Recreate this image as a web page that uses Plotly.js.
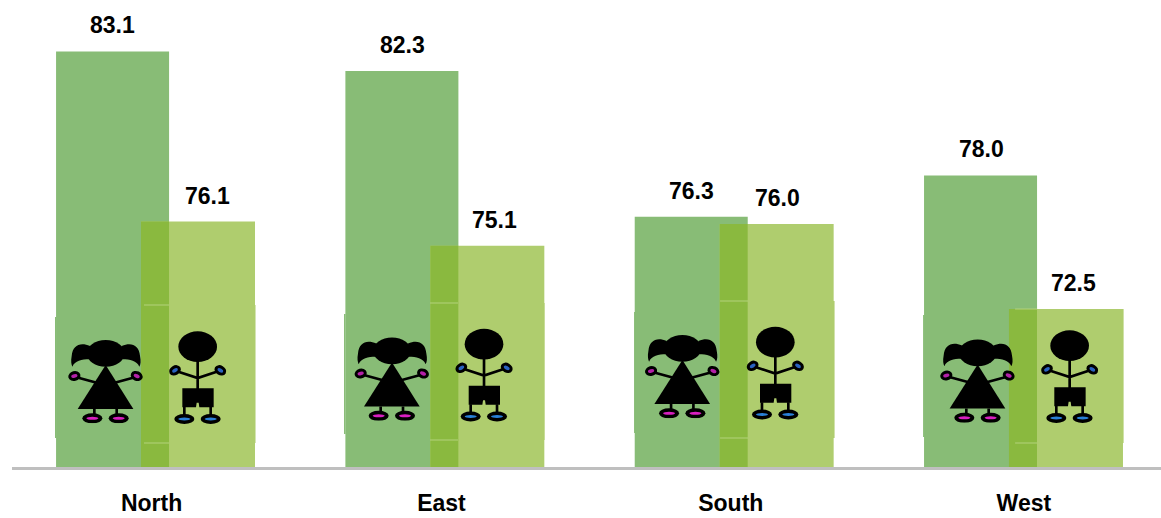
<!DOCTYPE html>
<html>
<head>
<meta charset="utf-8">
<script src="https://cdn.plot.ly/plotly-3.0.1.min.js"></script>
<style>html,body{margin:0;padding:0;background:#fff}#chart{width:1161px;height:518px}</style>
</head>
<body>
<div id="chart"></div>
<script>
var categories = ["North", "East", "South", "West"];
var femaleValues = [83.1, 82.3, 76.3, 78.0];
var maleValues = [76.1, 75.1, 76.0, 72.5];
var groupIndex = [0, 1, 2, 3];

// layout constants (pixels / axis fractions), not data
var femaleLabelOffset = [-0.147, -0.145, -0.145, -0.145];
var maleLabelOffset = [0.180, 0.173, 0.152, 0.176];
var tickPositions = [-0.012, -0.010, -0.010, 0.003];
var girlOffset = [-0.3053, -0.3157, -0.312, -0.2915];
var boyOffset = [0.0403, 0.030, 0.0368, 0.0541];
var girlDy = [0, -2.5, -5, -0.5];
var boyDy = [0, -2.5, -4.5, -1];
var girlPatch = [[55, 317, 438], [344, 314, 434], [634, 312, 433], [923, 315, 437]];
var boyPatch = [[144, 169, 255, 305, 443], [430, 458, 544, 303, 440], [720, 748, 834, 301, 438], [1015, 1037, 1123, 309, 443]];

var FONT = '"Liberation Sans", Arial, sans-serif';
var pxX = 289.3, pxY = 24.3, x0 = -0.4943, leftPx = 12, basePx = 467;
function X(p) { return x0 + (p - leftPx) / pxX; }
function Y(p) { return 66 + (basePx - p) / pxY; }

function girlSvg() {
  return '<svg xmlns="http://www.w3.org/2000/svg" viewBox="80 140 230 260" width="460" height="520">' +
    '<path d="M150 168 C120 156 98 166 95 198 C92 213 94 224 97 230 C105 212 125 208 148 208 Z" fill="#000"/>' +
    '<path d="M245 168 C275 156 297 166 300 198 C303 213 302 224 298 230 C290 212 270 208 247 208 Z" fill="#000"/>' +
    '<ellipse cx="197" cy="190" rx="57" ry="40" fill="#000"/>' +
    '<path d="M197 225 L280 357 L113 357 Z" fill="#000"/>' +
    '<path d="M115 263 L170 278 M279 263 L224 278 M163 357 L163 380 M230 357 L230 380" stroke="#000" stroke-width="8" fill="none"/>' +
    '<ellipse cx="103" cy="258" rx="14" ry="10" transform="rotate(-15 103 258)" fill="#b320a8" stroke="#000" stroke-width="9"/>' +
    '<ellipse cx="290" cy="258" rx="14" ry="10" transform="rotate(25 290 258)" fill="#b320a8" stroke="#000" stroke-width="9"/>' +
    '<ellipse cx="157" cy="385" rx="30" ry="15" fill="#000"/><ellipse cx="157" cy="385" rx="18" ry="4.5" fill="#d81fc0"/>' +
    '<ellipse cx="236" cy="385" rx="30" ry="15" fill="#000"/><ellipse cx="236" cy="385" rx="18" ry="4.5" fill="#d81fc0"/>' +
    '</svg>';
}
function boySvg() {
  return '<svg xmlns="http://www.w3.org/2000/svg" viewBox="380 120 190 290" width="380" height="580">' +
    '<ellipse cx="473" cy="170" rx="58" ry="46" fill="#000"/>' +
    '<path d="M473 205 L473 300 M415 245 L473 264 L530 245 M433 350 L433 382 M512 350 L512 382" stroke="#000" stroke-width="8" fill="none"/>' +
    '<path d="M427 295 L521 295 L521 352 L478 352 L476 338 L470 338 L468 352 L427 352 Z" fill="#000"/>' +
    '<ellipse cx="405" cy="241" rx="14" ry="10" transform="rotate(-30 405 241)" fill="#2a62c0" stroke="#000" stroke-width="9"/>' +
    '<ellipse cx="541" cy="241" rx="14" ry="10" transform="rotate(30 541 241)" fill="#2a62c0" stroke="#000" stroke-width="9"/>' +
    '<ellipse cx="433" cy="387" rx="30" ry="15" fill="#000"/><ellipse cx="433" cy="387" rx="18" ry="4.5" fill="#2a80d8"/>' +
    '<ellipse cx="512" cy="387" rx="30" ry="15" fill="#000"/><ellipse cx="512" cy="387" rx="18" ry="4.5" fill="#2a80d8"/>' +
    '</svg>';
}
function uri(s) { return 'data:image/svg+xml;charset=utf-8,' + encodeURIComponent(s); }

var images = [];
groupIndex.forEach(function (g, i) {
  images.push({source: uri(girlSvg()), xref: 'x', yref: 'y', xanchor: 'left', yanchor: 'top',
    x: g + girlOffset[i], y: Y(336.67 + girlDy[i]), sizex: (230 / 3) / pxX, sizey: (260 / 3) / pxY,
    sizing: 'stretch', layer: 'above'});
  images.push({source: uri(boySvg()), xref: 'x', yref: 'y', xanchor: 'left', yanchor: 'top',
    x: g + boyOffset[i], y: Y(330 + boyDy[i]), sizex: (190 / 3) / pxX, sizey: (290 / 3) / pxY,
    sizing: 'stretch', layer: 'above'});
});

var shapes = [];
function rect(xa, xb, ya, yb, c) {
  shapes.push({type: 'rect', xref: 'x', yref: 'y', x0: X(xa), x1: X(xb), y0: Y(ya), y1: Y(yb),
    fillcolor: c, line: {width: 0}, layer: 'above'});
}
function seg(xa, ya, xb, yb) {
  shapes.push({type: 'line', xref: 'x', yref: 'y', x0: X(xa), x1: X(xb), y0: Y(ya), y1: Y(yb),
    line: {color: '#b3d27c', width: 1}, layer: 'above'});
}
girlPatch.forEach(function (p) { rect(p[0], p[0] + 1.5, p[1], p[2], '#88bc76'); });
boyPatch.forEach(function (p) {
  rect(p[2] - 1.5, p[2] + 0.5, p[3], p[4], '#afcd6e');
  seg(p[0], p[3], p[1], p[3]);
  seg(p[0], p[4], p[1], p[4]);
});

function barTrace(name, values, color, offset, width) {
  return {type: 'bar', name: name, x: groupIndex, y: values, offset: offset, width: width,
    marker: {color: color, line: {width: 0}}, hoverinfo: 'x+y'};
}
var data = [
  barTrace('Female', femaleValues, '#88bc76', -0.342, 0.3906),
  barTrace('Male', maleValues, '#afcd6e', -0.0484, 0.394),
  barTrace('Overlap', maleValues, '#8ab93f', -0.0484, 0.0968)
];

var annotations = [];
function addLabels(values, offsets) {
  values.forEach(function (v, i) {
    annotations.push({x: groupIndex[i] + offsets[i], y: v, xref: 'x', yref: 'y', text: v.toFixed(1),
      showarrow: false, yanchor: 'middle', xanchor: 'center', yshift: 26,
      font: {family: FONT, size: 23, color: '#000', weight: 700}});
  });
}
addLabels(femaleValues, femaleLabelOffset);
addLabels(maleValues, maleLabelOffset);

var layout = {
  width: 1161, height: 518, showlegend: false, barmode: 'overlay',
  paper_bgcolor: '#fff', plot_bgcolor: '#fff',
  margin: {l: 12, r: 0, t: 0, b: 51, pad: 0},
  xaxis: {range: [x0, 3.477], tickmode: 'array', tickvals: groupIndex.map(function (g, i) { return g + tickPositions[i]; }),
    ticktext: categories, showgrid: false, zeroline: false, showline: true, linecolor: '#bfbfbf', linewidth: 3,
    ticks: 'outside', ticklen: 13, tickcolor: 'rgba(0,0,0,0)',
    tickfont: {family: FONT, size: 23, color: '#000', weight: 700}},
  yaxis: {range: [66, 66 + 467 / pxY], visible: false},
  annotations: annotations, images: images, shapes: shapes
};
Plotly.newPlot('chart', data, layout, {displayModeBar: false, responsive: false});
</script>
</body>
</html>
